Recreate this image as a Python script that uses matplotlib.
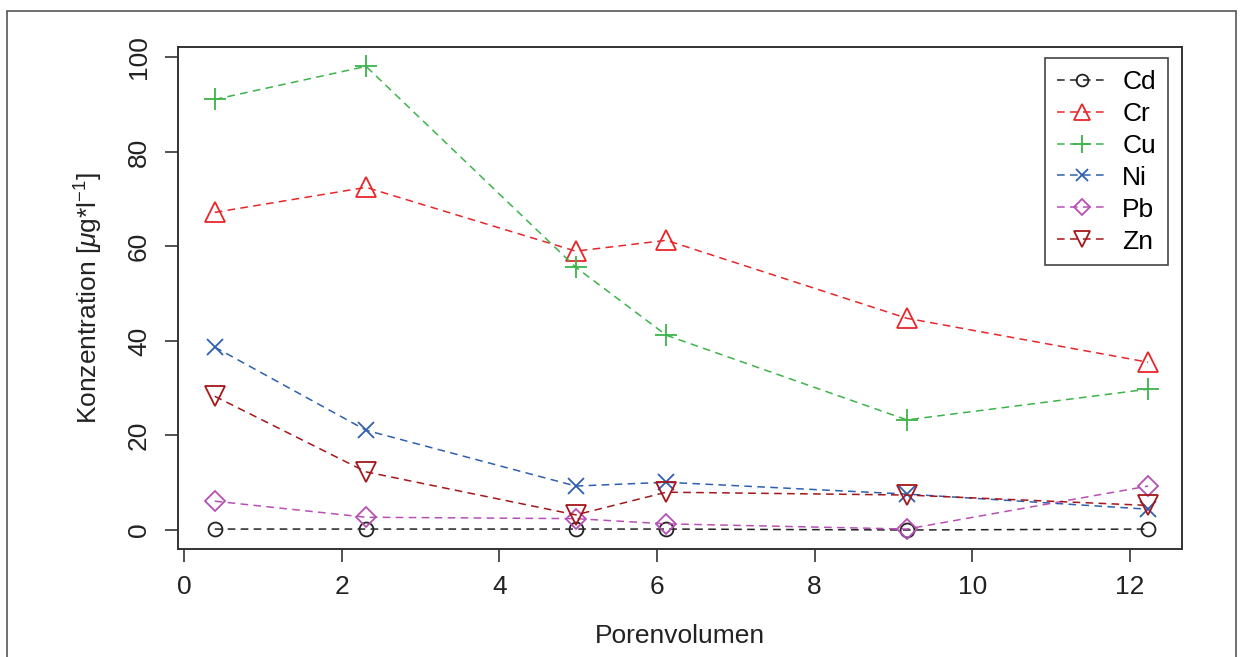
import matplotlib
matplotlib.use("Agg")
import matplotlib.pyplot as plt
from matplotlib.patches import Rectangle

plt.rcParams['font.family'] = ['Liberation Sans', 'DejaVu Sans']
plt.rcParams['mathtext.fontset'] = 'custom'
plt.rcParams['mathtext.rm'] = 'Liberation Sans'
plt.rcParams['mathtext.it'] = 'Liberation Sans:italic'

# Porenvolumen
pv = [0.39, 2.31, 4.97, 6.12, 9.17, 12.23]

cd = [0.2, 0.2, 0.2, 0.2, 0.0, 0.2]
cr = [67.2, 72.5, 59.0, 61.3, 44.8, 35.5]
cu = [91.1, 98.1, 55.6, 41.2, 23.3, 29.8]
ni = [38.7, 21.1, 9.3, 10.1, 7.6, 4.4]
pb = [6.1, 2.7, 2.4, 1.3, 0.2, 9.3]
zn = [28.3, 12.3, 3.2, 8.0, 7.4, 5.2]

names = ["Cd", "Cr", "Cu", "Ni", "Pb", "Zn"]
series = [cd, cr, cu, ni, pb, zn]
colors = ["#222222", "#e8262a", "#3cb44a", "#2e5fb0", "#b84fb5", "#a4161a"]
markers = ["o", "^", "+", "x", "D", "v"]
msizes = [10, 14, 16, 11, 10, 14]

fig = plt.figure(figsize=(12.44, 6.57), dpi=100)
ax = fig.add_axes([178 / 1244, 1 - 549 / 657, (1182 - 178) / 1244, (549 - 47) / 657])

# outer frame
fig.patches.append(Rectangle((7 / 1244, -0.05), (1236 - 7) / 1244, 1.05 - 11 / 657,
                             transform=fig.transFigure, fill=False,
                             edgecolor="#555555", linewidth=1.2))

for name, vals, c, m, ms in zip(names, series, colors, markers, msizes):
    ax.plot(pv, vals, linestyle=(0, (5, 3.5)), linewidth=1.1, color=c,
            marker=m, markersize=ms, markerfacecolor="none", markeredgecolor=c,
            markeredgewidth=1.3, label=name)

ax.set_xlim(-0.076, 12.66)
ax.set_ylim(-4.02, 102.2)
ax.set_xticks([0, 2, 4, 6, 8, 10, 12])
ax.set_yticks([0, 20, 40, 60, 80, 100])
for lbl in ax.get_yticklabels():
    lbl.set_rotation(90)
    lbl.set_va("center")
ax.tick_params(axis="both", labelsize=19, length=9.5, width=1.2, color="#333333",
               labelcolor="#222222", pad=9)
ax.tick_params(axis="y", pad=10)
for s in ax.spines.values():
    s.set_linewidth(1.4)
    s.set_color("#333333")

ax.set_xlabel("Porenvolumen", fontsize=19, color="#222222", labelpad=18)
ax.set_ylabel(r"Konzentration [$\mu$g*l$^{-1}$]", fontsize=19, color="#222222", labelpad=16)

leg = ax.legend(loc="upper right", bbox_to_anchor=(0.986, 0.978), borderaxespad=0,
                fontsize=19, handlelength=1.9, handletextpad=0.57, labelspacing=0.3,
                borderpad=0.45, fancybox=False, framealpha=1, edgecolor="#444444")
leg.get_frame().set_linewidth(1.2)
for h in leg.legend_handles:
    h.set_markersize(h.get_markersize() * 0.85)

fig.savefig("out.png", dpi=100)
